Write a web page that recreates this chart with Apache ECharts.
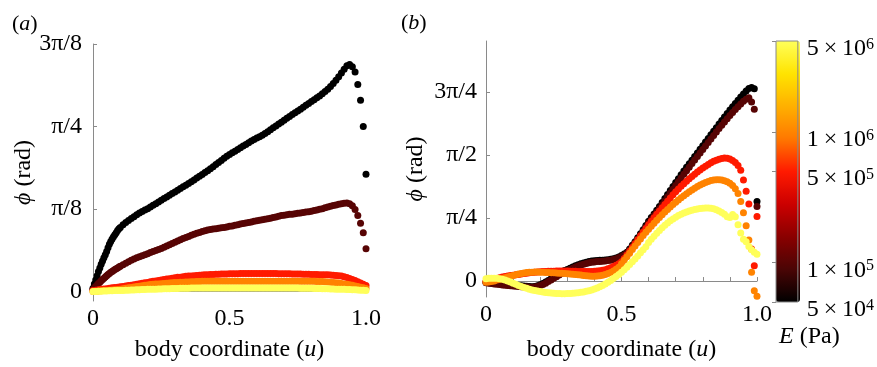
<!DOCTYPE html>
<html><head><meta charset="utf-8">
<script src="https://cdn.jsdelivr.net/npm/echarts@6/dist/echarts.min.js"></script>
<style>html,body{margin:0;padding:0;background:#fff}#c{width:877px;height:367px}</style>
</head><body><div id="c"></div>
<script>
// body coordinate samples
const u = [
0,0.01,0.02,0.03,0.04,0.05,0.06,0.07,0.08,0.09,
0.1,0.11,0.12,0.13,0.14,0.15,0.16,0.17,0.18,0.19,
0.2,0.21,0.22,0.23,0.24,0.25,0.26,0.27,0.28,0.29,
0.3,0.31,0.32,0.33,0.34,0.35,0.36,0.37,0.38,0.39,
0.4,0.41,0.42,0.43,0.44,0.45,0.46,0.47,0.48,0.49,
0.5,0.51,0.52,0.53,0.54,0.55,0.56,0.57,0.58,0.59,
0.6,0.61,0.62,0.63,0.64,0.65,0.66,0.67,0.68,0.69,
0.7,0.71,0.72,0.73,0.74,0.75,0.76,0.77,0.78,0.79,
0.8,0.81,0.82,0.83,0.84,0.85,0.86,0.87,0.88,0.89,
0.9,0.91,0.92,0.93,0.94,0.95,0.96,0.97,0.98,0.99,
1.0];
// extra (denser) samples near the clamped end, panel (a) soft curves
const uStart = [0.005,0.015,0.025,0.035,0.045,0.055,0.065,0.075,0.085,0.095];
// Young's modulus of each curve (Pa)
const E = [5e4, 1e5, 5e5, 1e6, 5e6];

// Panel (a): phi (rad)
const phiA_5e4 = [
0.015,0.055,0.095,0.13,0.16,0.19,0.225,0.25,0.27,0.29,
0.305,0.318,0.328,0.338,0.347,0.356,0.365,0.373,0.381,0.388,
0.394,0.402,0.41,0.418,0.426,0.434,0.442,0.45,0.458,0.466,
0.474,0.482,0.49,0.498,0.506,0.514,0.522,0.531,0.54,0.549,
0.557,0.566,0.575,0.584,0.594,0.604,0.614,0.624,0.634,0.644,
0.652,0.66,0.668,0.676,0.684,0.692,0.7,0.708,0.716,0.724,
0.731,0.737,0.744,0.752,0.76,0.77,0.779,0.788,0.797,0.806,
0.815,0.824,0.833,0.842,0.851,0.859,0.868,0.877,0.886,0.895,
0.904,0.913,0.922,0.931,0.941,0.952,0.963,0.976,0.99,1.005,
1.022,1.04,1.058,1.074,1.08,1.07,1.045,0.985,0.91,0.785,
0.558];
const phiA_5e4_start = [0.035,0.075,0.112,0.145,0.175,0.208,0.238,0.26,0.28,0.298];
const phiA_1e5 = [
0.01,0.024,0.038,0.051,0.063,0.075,0.086,0.095,0.104,0.112,
0.12,0.127,0.134,0.141,0.148,0.155,0.16,0.165,0.17,0.175,
0.18,0.185,0.19,0.195,0.2,0.205,0.211,0.216,0.222,0.228,
0.234,0.24,0.246,0.252,0.257,0.262,0.267,0.272,0.277,0.281,
0.285,0.289,0.292,0.295,0.297,0.299,0.301,0.303,0.305,0.307,
0.31,0.312,0.315,0.318,0.321,0.323,0.326,0.328,0.331,0.334,
0.336,0.339,0.341,0.344,0.346,0.349,0.352,0.355,0.358,0.361,
0.363,0.365,0.367,0.368,0.37,0.372,0.374,0.376,0.378,0.38,
0.382,0.385,0.388,0.391,0.394,0.398,0.402,0.406,0.409,0.412,
0.415,0.418,0.42,0.421,0.418,0.408,0.39,0.362,0.325,0.28,
0.203];
const phiA_1e5_start = [0.017,0.031,0.044,0.057,0.069,0.081,0.091,0.1,0.108,0.116];
const phiA_5e5 = [
0.005,0.006,0.008,0.01,0.012,0.013,0.015,0.017,0.019,0.02,
0.022,0.024,0.026,0.028,0.03,0.032,0.034,0.037,0.039,0.041,
0.043,0.046,0.048,0.05,0.052,0.054,0.057,0.059,0.061,0.063,
0.065,0.067,0.068,0.07,0.072,0.073,0.074,0.075,0.076,0.077,
0.078,0.079,0.08,0.081,0.081,0.082,0.082,0.083,0.083,0.083,
0.084,0.084,0.084,0.084,0.085,0.085,0.085,0.085,0.085,0.085,
0.085,0.085,0.085,0.085,0.085,0.085,0.085,0.085,0.084,0.084,
0.084,0.084,0.084,0.083,0.083,0.083,0.083,0.082,0.082,0.082,
0.081,0.081,0.081,0.08,0.08,0.08,0.079,0.078,0.077,0.076,
0.075,0.073,0.07,0.066,0.062,0.057,0.052,0.046,0.04,0.034,
0.028];
const phiA_1e6 = [
0,0.001,0.002,0.003,0.004,0.005,0.006,0.007,0.008,0.009,
0.011,0.013,0.015,0.017,0.019,0.021,0.023,0.025,0.027,0.029,
0.031,0.033,0.034,0.035,0.036,0.037,0.038,0.039,0.04,0.041,
0.042,0.043,0.044,0.044,0.045,0.045,0.046,0.046,0.047,0.047,
0.048,0.048,0.048,0.048,0.049,0.049,0.049,0.049,0.049,0.049,
0.049,0.049,0.049,0.049,0.049,0.049,0.049,0.049,0.049,0.049,
0.049,0.049,0.049,0.049,0.049,0.049,0.049,0.049,0.049,0.049,
0.049,0.049,0.049,0.049,0.049,0.048,0.048,0.048,0.048,0.048,
0.048,0.048,0.047,0.047,0.047,0.046,0.045,0.044,0.043,0.041,
0.04,0.038,0.036,0.034,0.032,0.029,0.026,0.023,0.02,0.017,
0.014];
const phiA_5e6 = [
0,0,0.001,0.001,0.002,0.002,0.003,0.003,0.004,0.004,
0.005,0.005,0.006,0.006,0.007,0.007,0.008,0.008,0.009,0.009,
0.01,0.01,0.011,0.011,0.012,0.012,0.013,0.013,0.013,0.014,
0.014,0.014,0.015,0.015,0.015,0.015,0.016,0.016,0.016,0.016,
0.016,0.016,0.016,0.016,0.016,0.016,0.016,0.016,0.016,0.016,
0.016,0.016,0.016,0.016,0.016,0.016,0.016,0.016,0.016,0.016,
0.016,0.016,0.016,0.016,0.016,0.016,0.016,0.016,0.016,0.016,
0.016,0.016,0.016,0.016,0.016,0.016,0.015,0.015,0.015,0.015,
0.015,0.014,0.014,0.014,0.013,0.013,0.013,0.012,0.012,0.011,
0.011,0.01,0.01,0.009,0.009,0.008,0.008,0.007,0.006,0.006,
0.005];

// Panel (b): phi (rad)
const phiB_5e4 = [
-0.015,-0.02,-0.025,-0.028,-0.032,-0.035,-0.038,-0.041,-0.044,-0.047,
-0.05,-0.053,-0.056,-0.059,-0.062,-0.065,-0.068,-0.07,-0.068,-0.06,
-0.045,-0.03,-0.012,0.008,0.03,0.053,0.075,0.095,0.113,0.13,
0.145,0.16,0.175,0.19,0.203,0.215,0.226,0.235,0.243,0.249,
0.253,0.256,0.258,0.26,0.262,0.265,0.27,0.277,0.287,0.3,
0.317,0.337,0.36,0.4,0.445,0.49,0.54,0.59,0.64,0.692,
0.745,0.79,0.836,0.882,0.93,0.978,1.027,1.077,1.127,1.177,
1.226,1.275,1.323,1.37,1.416,1.461,1.506,1.551,1.596,1.641,
1.686,1.731,1.776,1.821,1.866,1.911,1.956,2.0,2.044,2.088,
2.13,2.172,2.213,2.253,2.292,2.33,2.366,2.398,2.412,2.395,
0.99];
const phiB_1e5 = [
-0.02,-0.026,-0.031,-0.036,-0.04,-0.044,-0.048,-0.052,-0.055,-0.058,
-0.061,-0.064,-0.067,-0.07,-0.073,-0.075,-0.077,-0.078,-0.075,-0.068,
-0.057,-0.043,-0.026,-0.007,0.013,0.034,0.055,0.075,0.094,0.112,
0.129,0.145,0.16,0.174,0.187,0.199,0.21,0.219,0.227,0.233,
0.238,0.242,0.245,0.248,0.251,0.255,0.26,0.267,0.277,0.29,
0.306,0.326,0.35,0.388,0.431,0.476,0.524,0.573,0.622,0.672,
0.722,0.767,0.812,0.857,0.903,0.95,0.998,1.046,1.094,1.142,
1.19,1.237,1.284,1.33,1.375,1.419,1.463,1.507,1.551,1.595,
1.639,1.683,1.727,1.77,1.813,1.856,1.899,1.941,1.982,2.022,
2.061,2.099,2.136,2.172,2.206,2.238,2.265,2.282,2.23,2.14,
0.93];
const phiB_5e5 = [
-0.005,0,0.008,0.018,0.028,0.04,0.05,0.058,0.064,0.069,
0.073,0.078,0.083,0.088,0.093,0.098,0.103,0.107,0.111,0.114,
0.116,0.118,0.12,0.121,0.122,0.123,0.124,0.125,0.125,0.125,
0.124,0.123,0.122,0.121,0.12,0.119,0.118,0.118,0.118,0.119,
0.121,0.124,0.128,0.134,0.142,0.152,0.165,0.18,0.197,0.216,
0.24,0.282,0.326,0.372,0.419,0.466,0.513,0.56,0.607,0.654,
0.7,0.744,0.788,0.831,0.873,0.914,0.955,0.995,1.035,1.074,
1.112,1.147,1.18,1.212,1.243,1.273,1.302,1.33,1.357,1.383,
1.408,1.431,1.453,1.473,1.491,1.506,1.518,1.527,1.532,1.53,
1.52,1.502,1.476,1.44,1.38,1.26,1.12,0.96,0.4,0.19,
0.805];
const phiB_1e6 = [
-0.016,-0.012,-0.006,0.002,0.012,0.022,0.031,0.04,0.05,0.06,
0.07,0.08,0.088,0.095,0.101,0.106,0.109,0.111,0.112,0.112,
0.111,0.11,0.108,0.106,0.104,0.102,0.1,0.098,0.096,0.094,
0.092,0.089,0.086,0.082,0.078,0.074,0.07,0.066,0.062,0.06,
0.06,0.062,0.066,0.072,0.081,0.093,0.108,0.126,0.148,0.173,
0.215,0.258,0.302,0.347,0.392,0.437,0.481,0.524,0.566,0.607,
0.646,0.684,0.721,0.757,0.792,0.826,0.859,0.891,0.922,0.952,
0.981,1.009,1.036,1.062,1.087,1.111,1.134,1.156,1.177,1.196,
1.213,1.228,1.241,1.251,1.258,1.262,1.262,1.258,1.25,1.237,
1.218,1.19,1.15,1.09,0.99,0.85,0.69,0.51,0.11,-0.12,
-0.19];
const phiB_5e6 = [
0.03,0.034,0.036,0.036,0.034,0.03,0.022,0.012,0,-0.013,
-0.027,-0.041,-0.055,-0.068,-0.08,-0.091,-0.101,-0.11,-0.118,-0.125,
-0.131,-0.137,-0.142,-0.146,-0.15,-0.153,-0.155,-0.156,-0.157,-0.157,
-0.156,-0.155,-0.153,-0.15,-0.146,-0.141,-0.135,-0.128,-0.12,-0.111,
-0.1,-0.087,-0.072,-0.055,-0.036,-0.015,0.008,0.032,0.057,0.083,
0.11,0.14,0.172,0.205,0.24,0.276,0.313,0.351,0.39,0.428,
0.48,0.52,0.558,0.595,0.63,0.663,0.694,0.723,0.75,0.774,
0.796,0.815,0.832,0.847,0.86,0.872,0.882,0.891,0.898,0.904,
0.908,0.91,0.91,0.907,0.9,0.889,0.874,0.855,0.832,0.8,
0.79,0.83,0.8,0.7,0.6,0.52,0.49,0.43,0.39,0.36,
0.335];

// Tick labels
const xTickValues = [0, 0.5, 1];
const xTickLabels = ['0', '0.5', '1.0'];
const yTicksA_multPi8 = [0, 1, 2, 3];
const yTickLabelsA = ['0', 'π/8', 'π/4', '3π/8'];
const yTicksB_multPi4 = [0, 1, 2, 3];
const yTickLabelsB = ['0', 'π/4', 'π/2', '3π/4'];
const cbTickValues = [5e4, 1e5, 5e5, 1e6, 5e6];
const cbTickMant = ['5', '1', '5', '1', '5'];
const cbTickExp = ['4', '5', '5', '6', '6'];

const FONT = "'Liberation Serif', 'DejaVu Serif', serif";
const FS = 24;
const AXC = '#8a8a8a';
const ramp = ['#000000','#4a0505','#8a0000','#cc0000','#ff1a00','#ff7800','#ffb000','#ffe400','#ffff5a'];

const seriesA = [phiA_5e4, phiA_1e5, phiA_5e5, phiA_1e6, phiA_5e6];
const startA = [phiA_5e4_start, phiA_1e5_start, null, null, null];
const seriesB = [phiB_5e4, phiB_1e5, phiB_5e5, phiB_1e6, phiB_5e6];

function mk(arr, extra, k, gi) {
  const z = Math.log10(E[k]);
  let data = arr.map((p, i) => [u[i], p, z]);
  if (extra) data = extra.map((p, i) => [uStart[i], p, z]).concat(data);
  return {
    type: 'scatter', xAxisIndex: gi, yAxisIndex: gi,
    symbolSize: 7, itemStyle: { opacity: 1 },
    data: data, silent: true
  };
}
const series = [];
seriesA.forEach((a, k) => series.push(mk(a, startA[k], k, 0)));
seriesB.forEach((a, k) => series.push(mk(a, null, k, 1)));

const pi8 = yTicksA_multPi8.map(m => m * Math.PI / 8);
const pi4 = yTicksB_multPi4.map(m => m * Math.PI / 4);
function pick(vals, labels) {
  return v => { const i = vals.findIndex(t => Math.abs(t - v) < 1e-6); return i < 0 ? '' : labels[i]; };
}
const cbLog = cbTickValues.map(v => Math.log10(v));

function xAxis(gi, gap) {
  return {
    gridIndex: gi, type: 'value', min: 0, max: 1, interval: 0.1,
    name: 'body coordinate ({i|u})', nameLocation: 'middle', nameGap: gap,
    nameTextStyle: { fontFamily: FONT, fontSize: FS, color: '#000',
      rich: { i: { fontFamily: FONT, fontSize: FS, fontStyle: 'italic', color: '#000' } } },
    axisLine: { lineStyle: { color: AXC, width: 1 } },
    axisTick: { inside: true, length: 4, lineStyle: { color: AXC } },
    axisLabel: { customValues: xTickValues, formatter: pick(xTickValues, xTickLabels),
      fontFamily: FONT, fontSize: FS, color: '#000', margin: 6 },
    splitLine: { show: false }
  };
}
function yAxis(gi, min, max, vals, labels, gap, margin) {
  return {
    gridIndex: gi, type: 'value', min: min, max: max,
    name: '{i|ϕ} (rad)', nameLocation: 'middle', nameGap: gap,
    nameTextStyle: { fontFamily: FONT, fontSize: FS, color: '#000',
      rich: { i: { fontFamily: FONT, fontSize: FS, fontStyle: 'italic', color: '#000' } } },
    axisLine: { show: true, lineStyle: { color: AXC, width: 1 } },
    axisTick: { inside: true, length: 4, customValues: vals, lineStyle: { color: AXC } },
    axisLabel: { customValues: vals, formatter: pick(vals, labels),
      fontFamily: FONT, fontSize: FS, color: '#000', margin: margin },
    splitLine: { show: false }
  };
}

const option = {
  animation: false,
  backgroundColor: '#fff',
  grid: [
    { left: 93, top: 44, width: 273, height: 258 },
    { left: 486, top: 41, width: 271, height: 261 },
    { left: 776, top: 41, width: 24, height: 261, show: true, borderColor: '#888', borderWidth: 1, backgroundColor: 'transparent', z: 10 }
  ],
  xAxis: [
    xAxis(0, 37), xAxis(1, 41),
    { gridIndex: 2, type: 'value', min: 0, max: 1, show: false }
  ],
  yAxis: [
    yAxis(0, -0.0455, 3 * Math.PI / 8, pi8, yTickLabelsA, 54, 11),
    yAxis(1, -0.1987, 2.99, pi4, yTickLabelsB, 58, 9),
    {
      gridIndex: 2, type: 'value', position: 'right', z: 10,
      min: Math.log10(5e4), max: Math.log10(5e6),
      axisLine: { show: false },
      axisTick: { inside: true, length: 4, customValues: cbLog, lineStyle: { color: AXC } },
      axisLabel: {
        customValues: cbLog, margin: 9, padding: [15, 0, 0, 0],
        formatter: v => { const i = cbLog.findIndex(t => Math.abs(t - v) < 1e-6); return i < 0 ? '' : '{b|' + cbTickMant[i] + '\u2009×\u200910}{s|' + cbTickExp[i] + '}'; },
        rich: {
          b: { fontFamily: FONT, fontSize: FS, lineHeight: 24, verticalAlign: 'bottom', color: '#000' },
          s: { fontFamily: FONT, fontSize: 16, lineHeight: 14, verticalAlign: 'top', color: '#000' }
        }
      },
      splitLine: { show: false }
    }
  ],
  visualMap: {
    type: 'continuous', min: Math.log10(5e4), max: Math.log10(5e6), dimension: 2,
    seriesIndex: [0,1,2,3,4,5,6,7,8,9],
    left: 776, top: 41, itemWidth: 24, itemHeight: 261, padding: 0,
    calculable: false, hoverLink: false, showLabel: false,
    inRange: { color: ramp }
  },
  graphic: [
    { type: 'text', left: 12, top: 13, style: { text: '({i|a})', fontFamily: FONT, fontSize: 22, fill: '#000',
      rich: { i: { fontFamily: FONT, fontSize: 22, fontStyle: 'italic', fill: '#000' } } } },
    { type: 'text', left: 401, top: 12, style: { text: '({i|b})', fontFamily: FONT, fontSize: 22, fill: '#000',
      rich: { i: { fontFamily: FONT, fontSize: 22, fontStyle: 'italic', fill: '#000' } } } },
    { type: 'text', left: 779, top: 325, style: { text: '{i|E} (Pa)', fontFamily: FONT, fontSize: FS, fill: '#000',
      rich: { i: { fontFamily: FONT, fontSize: FS, fontStyle: 'italic', fill: '#000' } } } }
  ],
  series: series
};
echarts.init(document.getElementById('c'), null, { renderer: 'canvas' }).setOption(option);
</script>
</body></html>
